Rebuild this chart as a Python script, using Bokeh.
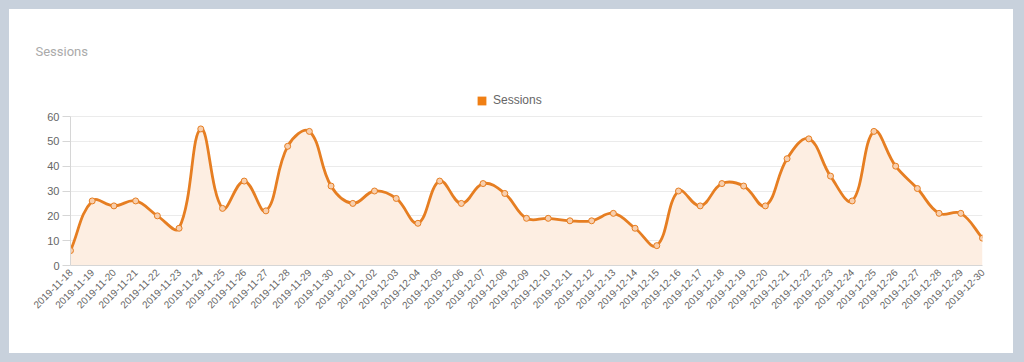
import math
import numpy as np
from bokeh.plotting import figure
from bokeh.models import Range1d, FixedTicker, Legend, LegendItem, ColumnDataSource
from bokeh.embed import file_html
from bokeh.resources import INLINE

dates = [
    "2019-11-18", "2019-11-19", "2019-11-20", "2019-11-21", "2019-11-22", "2019-11-23",
    "2019-11-24", "2019-11-25", "2019-11-26", "2019-11-27", "2019-11-28", "2019-11-29",
    "2019-11-30", "2019-12-01", "2019-12-02", "2019-12-03", "2019-12-04", "2019-12-05",
    "2019-12-06", "2019-12-07", "2019-12-08", "2019-12-09", "2019-12-10", "2019-12-11",
    "2019-12-12", "2019-12-13", "2019-12-14", "2019-12-15", "2019-12-16", "2019-12-17",
    "2019-12-18", "2019-12-19", "2019-12-20", "2019-12-21", "2019-12-22", "2019-12-23",
    "2019-12-24", "2019-12-25", "2019-12-26", "2019-12-27", "2019-12-28", "2019-12-29",
    "2019-12-30",
]
sessions = [
    6, 26, 24, 26, 20, 15, 55, 23, 34, 22, 48, 54, 32,
    25, 30, 27, 17, 34, 25, 33, 29, 19, 19, 18, 18, 21, 15, 8, 30, 24,
    33, 32, 24, 43, 51, 36, 26, 54, 40, 31, 21, 21, 11,
]
y_ticks = [0, 10, 20, 30, 40, 50, 60]
series_name = "Sessions"
card_title = "Sessions"

LINE = "#e67e22"
FILL = "#fdeee2"
POINT_FILL = "#f8cfae"
LEGEND_BOX = "#f07f14"

W, H = 1004, 344
BL, BR, BT, BB = 61, 31, 77, 88
frame_w = W - BL - BR
frame_h = H - BT - BB          # includes legend strip above the value area
plot_h = 149                   # height of the 0..60 value area in px

n = len(sessions)
x = np.arange(n, dtype=float)
y = np.array(sessions, dtype=float)
ymin, ymax = 0, 60
y_end = ymax * frame_h / plot_h

# Chart.js-like spline control points (tension 0.4), computed in pixel space
sx = frame_w / (n - 1)
sy = plot_h / (ymax - ymin)
t = 0.4
cp_prev = np.zeros((n, 2))
cp_next = np.zeros((n, 2))
for i in range(n):
    pi_ = max(i - 1, 0)
    ni = min(i + 1, n - 1)
    px, py = x[pi_] * sx, y[pi_] * sy
    cx, cy = x[i] * sx, y[i] * sy
    nx, ny = x[ni] * sx, y[ni] * sy
    d01 = math.hypot(cx - px, cy - py)
    d12 = math.hypot(nx - cx, ny - cy)
    tot = d01 + d12
    s01 = d01 / tot if tot else 0
    s12 = d12 / tot if tot else 0
    fa, fb = t * s01, t * s12
    cp_prev[i] = [(cx - fa * (nx - px)) / sx, (cy - fa * (ny - py)) / sy]
    cp_next[i] = [(cx + fb * (nx - px)) / sx, (cy + fb * (ny - py)) / sy]
cp_prev[:, 1] = np.clip(cp_prev[:, 1], ymin, ymax)
cp_next[:, 1] = np.clip(cp_next[:, 1], ymin, ymax)

bez = ColumnDataSource(dict(
    x0=x[:-1], y0=y[:-1], x1=x[1:], y1=y[1:],
    cx0=cp_next[:-1, 0], cy0=cp_next[:-1, 1],
    cx1=cp_prev[1:, 0], cy1=cp_prev[1:, 1],
))

# sampled curve for the filled area
tt = np.linspace(0, 1, 24)
fx, fy = [], []
for i in range(n - 1):
    P0 = np.array([x[i], y[i]]); P1 = cp_next[i]; P2 = cp_prev[i + 1]; P3 = np.array([x[i + 1], y[i + 1]])
    for k, s in enumerate(tt):
        if i > 0 and k == 0:
            continue
        b = ((1 - s) ** 3) * P0 + 3 * ((1 - s) ** 2) * s * P1 + 3 * (1 - s) * s * s * P2 + (s ** 3) * P3
        fx.append(b[0]); fy.append(b[1])

p = figure(
    width=W, height=H, output_backend="svg", toolbar_location=None, title=card_title,
    x_range=Range1d(0, n - 1), y_range=Range1d(ymin, y_end),
    min_border_left=BL, min_border_right=BR, min_border_top=BT, min_border_bottom=BB,
)
p.styles = {"background-color": "white"}
p.title.align = "left"
p.title.offset = -35
p.title.standoff = 56
p.title.text_font = "Roboto"
p.title.text_font_size = "13px"
p.title.text_color = "#aaaaaa"
p.title.text_font_style = "normal"

p.outline_line_color = None
p.background_fill_color = "white"
p.border_fill_color = "white"
p.xgrid.visible = False
p.ygrid.grid_line_color = "#ebebeb"
p.ygrid.grid_line_width = 1

p.varea(x=fx, y1=0, y2=fy, fill_color=FILL, fill_alpha=1.0)
p.bezier(x0="x0", y0="y0", x1="x1", y1="y1", cx0="cx0", cy0="cy0", cx1="cx1", cy1="cy1",
         source=bez, line_color=LINE, line_width=2.8)
p.scatter(x, y, size=6, fill_color=POINT_FILL, line_color=LINE, line_width=1)

# zero-area quads: used only to provide the legend swatch
swatch = p.quad(left=x, right=x, top=ymin, bottom=ymin, fill_color=LEGEND_BOX, line_color=None)
legend = Legend(items=[LegendItem(label=series_name, renderers=[swatch])],
                location=(406, plot_h + 9), orientation="horizontal",
                padding=0, margin=0, spacing=0, glyph_width=11, glyph_height=11,
                label_standoff=6, border_line_color=None, background_fill_alpha=0,
                label_text_font="Liberation Sans", label_text_font_size="12px",
                label_text_color="#666666", label_height=11)
p.add_layout(legend, "center")

for ax in (p.xaxis[0], p.yaxis[0]):
    ax.axis_line_color = "#d6d6d6"
    ax.major_label_text_font = "Liberation Sans"
    ax.major_label_text_color = "#666666"
    ax.minor_tick_line_color = None
    ax.major_tick_line_color = "#d6d6d6"

p.yaxis.ticker = FixedTicker(ticks=y_ticks)
p.yaxis.bounds = (ymin, ymax)
p.yaxis.major_label_text_font_size = "11px"
p.yaxis.major_tick_in = 0
p.yaxis.major_tick_out = 8
p.yaxis.major_label_standoff = 3

p.xaxis.ticker = FixedTicker(ticks=list(range(n)))
p.xaxis.major_label_overrides = {i: d for i, d in enumerate(dates)}
p.xaxis.major_label_orientation = math.pi / 4
p.xaxis.major_label_text_font_size = "10px"
p.xaxis.major_tick_in = 0
p.xaxis.major_tick_out = 0
p.xaxis.major_label_standoff = 5

html = file_html(p, INLINE)
html = html.replace(
    "</head>",
    "<style>html,body{background-color:#c8d1dc;} body{padding:9px 0 0 9px !important;}</style></head>",
    1,
)
open("out.html", "w").write(html)
